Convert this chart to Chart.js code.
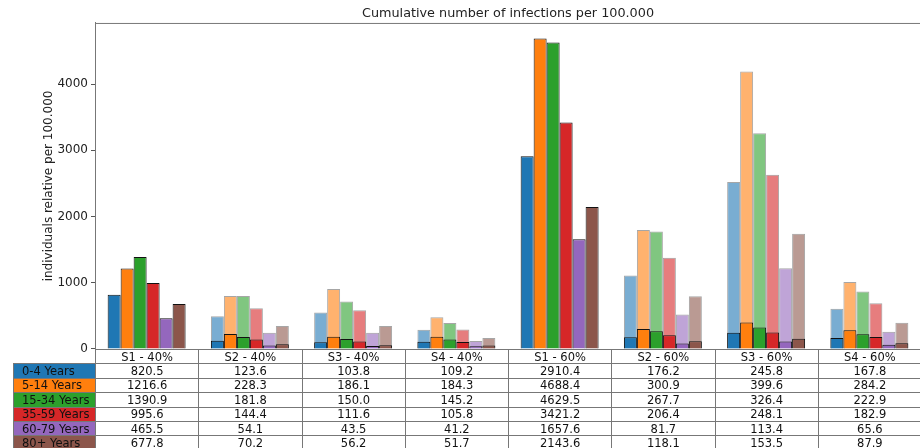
<!DOCTYPE html>
<html>
<head>
<meta charset="utf-8">
<script src="https://cdn.jsdelivr.net/npm/chart.js@4.4.1/dist/chart.umd.min.js"></script>
<style>
  html, body { margin: 0; padding: 0; background: #fff; overflow: hidden; }
  #wrap { position: relative; width: 922px; height: 448px; }
  #tbl { position: absolute; left: 13px; top: 349px; border-collapse: collapse; table-layout: fixed;
         font: 11.5px "DejaVu Sans", sans-serif; color: #111; }
  #tbl tr { height: 14.4px; }
  #tbl td { border: 1px solid #777; padding: 0; text-align: center; line-height: 12px;
            white-space: nowrap; overflow: hidden; }
  #tbl td.lbl { text-align: left; padding-left: 8px; }
  #tbl td.blank { border: none; }
</style>
</head>
<body>
<div id="wrap">
  <canvas id="chart"></canvas>
  <table id="tbl"></table>
</div>
<script>
const categories = ['S1 - 40%', 'S2 - 40%', 'S3 - 40%', 'S4 - 40%', 'S1 - 60%', 'S2 - 60%', 'S3 - 60%', 'S4 - 60%'];
const ageGroups = ['0-4 Years', '5-14 Years', '15-34 Years', '35-59 Years', '60-79 Years', '80+ Years'];
const colors = ['#1f77b4', '#ff7f0e', '#2ca02c', '#d62728', '#9467bd', '#8c564b'];
const yTicks = [0, 1000, 2000, 3000, 4000];

// values shown in the table (solid bars)
const age0_4 = [820.5, 123.6, 103.8, 109.2, 2910.4, 176.2, 245.8, 167.8];
const age5_14 = [1216.6, 228.3, 186.1, 184.3, 4688.4, 300.9, 399.6, 284.2];
const age15_34 = [1390.9, 181.8, 150.0, 145.2, 4629.5, 267.7, 326.4, 222.9];
const age35_59 = [995.6, 144.4, 111.6, 105.8, 3421.2, 206.4, 248.1, 182.9];
const age60_79 = [465.5, 54.1, 43.5, 41.2, 1657.6, 81.7, 113.4, 65.6];
const age80 = [677.8, 70.2, 56.2, 51.7, 2143.6, 118.1, 153.5, 87.9];

// lighter bars behind
const light0_4 = [null, 496, 551, 291, null, 1108, 2521, 607];
const light5_14 = [null, 802, 907, 481, null, 1795, 4190, 1012];
const light15_34 = [null, 802, 717, 391, null, 1775, 3258, 867];
const light35_59 = [null, 617, 586, 296, null, 1378, 2632, 692];
const light60_79 = [null, 246, 246, 120, null, 521, 1218, 261];
const light80 = [null, 346, 346, 165, null, 797, 1739, 396];

const solidValues = [age0_4, age5_14, age15_34, age35_59, age60_79, age80];
const lightValues = [light0_4, light5_14, light15_34, light35_59, light60_79, light80];

const font = { family: 'DejaVu Sans', size: 12 };

function fade(hex, a) {
    const n = parseInt(hex.slice(1), 16);
    return `rgba(${n >> 16}, ${(n >> 8) & 255}, ${n & 255}, ${a})`;
}

const allValues = solidValues.flat().concat(lightValues.flat().filter(v => v !== null));
const yMax = Math.max(...allValues) * 1.05;

const datasets = [];
ageGroups.forEach((g, i) => {
    datasets.push({
        label: g,
        data: solidValues[i],
        backgroundColor: colors[i],
        borderColor: '#111',
        borderWidth: 1,
        stack: 'g' + i
    });
});
ageGroups.forEach((g, i) => {
    datasets.push({
        label: g + ' (light)',
        data: lightValues[i],
        backgroundColor: fade(colors[i], 0.6),
        borderColor: 'rgba(0, 0, 0, 0.35)',
        borderWidth: 1,
        stack: 'g' + i
    });
});

// top spine of the axes
const frame = {
    id: 'frame',
    afterDraw(chart) {
        const { ctx, chartArea } = chart;
        ctx.save();
        ctx.strokeStyle = '#777';
        ctx.lineWidth = 1;
        ctx.beginPath();
        ctx.moveTo(chartArea.left, chartArea.top + 0.5);
        ctx.lineTo(chartArea.right, chartArea.top + 0.5);
        ctx.stroke();
        ctx.restore();
    }
};

const chart = new Chart(document.getElementById('chart'), {
    type: 'bar',
    data: { labels: categories, datasets: datasets },
    plugins: [frame],
    options: {
        responsive: true,
        maintainAspectRatio: false,
        animation: false,
        categoryPercentage: 0.755,
        barPercentage: 1,
        layout: { padding: { left: 0, right: 1, top: 0, bottom: 99 } },
        plugins: {
            legend: { display: false },
            tooltip: { enabled: false },
            title: {
                display: true,
                fullSize: false,
                text: 'Cumulative number of infections per 100.000',
                color: '#222',
                font: { family: 'DejaVu Sans', size: 12.8, weight: 'normal' },
                padding: { top: 6, bottom: 1.6 }
            }
        },
        scales: {
            x: {
                stacked: true,
                display: false
            },
            y: {
                stacked: false,
                min: 0,
                max: yMax,
                afterBuildTicks(scale) {
                    scale.ticks = yTicks.map(v => ({ value: v }));
                },
                ticks: { color: '#222', font: font, padding: 3, callback: v => String(v) },
                grid: { drawOnChartArea: false, tickLength: 4, color: '#555' },
                border: { color: '#777', width: 1 },
                title: {
                    display: true,
                    text: 'individuals relative per 100.000',
                    color: '#222',
                    font: font,
                    padding: { top: 42, bottom: 0 }
                },
                afterFit(scale) { scale.width = 95; }
            }
        }
    }
});

function buildTable() {
    const area = chart.chartArea;
    const colW = (area.right - area.left) / categories.length;
    const labelW = area.left - 13;
    let html = '<colgroup><col style="width:' + labelW + 'px">' +
        categories.map(() => '<col style="width:' + colW + 'px">').join('') + '</colgroup>';
    html += '<tr><td class="blank"></td>' + categories.map(c => '<td>' + c + '</td>').join('') + '</tr>';
    ageGroups.forEach((g, i) => {
        html += '<tr><td class="lbl" style="background:' + colors[i] + '">' + g + '</td>' +
            solidValues[i].map(v => '<td>' + v.toFixed(1) + '</td>').join('') + '</tr>';
    });
    const tbl = document.getElementById('tbl');
    tbl.innerHTML = html;
    tbl.style.width = (labelW + colW * categories.length) + 'px';
}
buildTable();
</script>
</body>
</html>
